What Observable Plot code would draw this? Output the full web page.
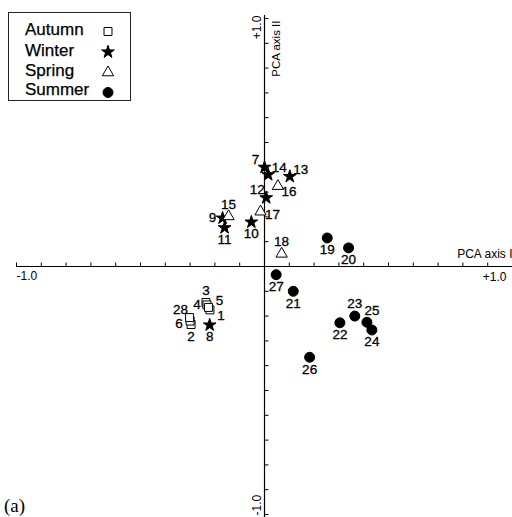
<!DOCTYPE html>
<html>
<head>
<meta charset="utf-8">
<script src="https://cdn.jsdelivr.net/npm/d3@7"></script>
<script src="https://cdn.jsdelivr.net/npm/@observablehq/plot@0.6"></script>
<style>
  html, body { margin: 0; padding: 0; background: #fff; }
  #chart { position: relative; width: 512px; height: 517px; }
</style>
</head>
<body>
<div id="chart"></div>
<script>
// ---- data (sample number, season, PCA axis I, PCA axis II) ----
const samples = [1,2,3,4,5,6,7,8,9,10,11,12,13,14,15,16,17,18,19,20,21,22,23,24,25,26,27,28];
const seasons = ["Autumn","Autumn","Autumn","Autumn","Autumn","Autumn","Winter","Winter","Winter","Winter",
                 "Winter","Winter","Winter","Winter","Spring","Spring","Spring","Spring","Summer","Summer",
                 "Summer","Summer","Summer","Summer","Summer","Summer","Summer","Autumn"];
const pcaI  = [-0.220,-0.296,-0.236,-0.232,-0.226,-0.300, 0.000,-0.221,-0.169,-0.053,
               -0.161, 0.007, 0.102, 0.015,-0.145, 0.054,-0.016, 0.069, 0.253, 0.339,
                0.116, 0.304, 0.364, 0.433, 0.413, 0.182, 0.047,-0.302];
const pcaII = [-0.175,-0.234,-0.145,-0.155,-0.165,-0.220, 0.400,-0.236, 0.195, 0.179,
                0.156, 0.277, 0.363, 0.370, 0.202, 0.324, 0.221, 0.051, 0.115, 0.075,
               -0.100,-0.227,-0.200,-0.256,-0.225,-0.366,-0.033,-0.206];
const labelSide = ["SE","S","N","W","NE","SW","NW","S","W","S",
                   "S","NW","NE","NE","N","SE","E","N","S","S",
                   "S","S","N","S","NNE","S","S","NW"];
const seasonOrder = ["Autumn","Winter","Spring","Summer"];
const axisTicks = d3.range(-10, 11).filter(i => i !== 0).map(i => i / 10);
const xTitle = "PCA axis I";
const yTitle = "PCA axis II";
const panelLabel = "(a)";

// ---- build table ----
const table = samples.map((s, i) => ({sample: String(s), season: seasons[i], x: pcaI[i], y: pcaII[i], side: labelSide[i]}));

const sideOffset = {N:[0,-12], NNE:[5,-12], S:[0,12], E:[12,3], W:[-10,0], SW:[-11,3], NE:[11,-7], NW:[-9,-8], SE:[11,6]};
const symbolOf = {Autumn: "square", Winter: "star", Spring: "triangle", Summer: "circle"};
const fillOf = {Autumn: "white", Winter: "black", Spring: "white", Summer: "black"};
const rOf = {Autumn: 4.5, Winter: 4, Spring: 4.2, Summer: 5};

const S = 248; // px per unit
const W = 512, H = 517, X0 = 264, Y0 = 266;
const xDomain = [-X0 / S, (W - X0) / S];
const yDomain = [-(H - Y0) / S, Y0 / S];

const tickUp = {draw(ctx) { ctx.moveTo(0, 0); ctx.lineTo(0, -4); }};
const tickRight = {draw(ctx) { ctx.moveTo(0, 0); ctx.lineTo(4, 0); }};

const font = "'Liberation Sans', Arial, Helvetica, sans-serif";

const marks = [
  Plot.ruleY([0], {x1: -1, x2: xDomain[1], stroke: "black", strokeWidth: 1.2}),
  Plot.ruleX([0], {y1: yDomain[0], y2: 1.012, stroke: "black", strokeWidth: 1.2}),
  Plot.dot(axisTicks, {x: d => d, y: 0, symbol: tickUp, stroke: "black", fill: "none", strokeWidth: 1}),
  Plot.dot(axisTicks, {x: 0, y: d => d, symbol: tickRight, stroke: "black", fill: "none", strokeWidth: 1}),
  // axis tick labels
  Plot.text(["-1.0"], {x: -1, y: 0, text: d => d, textAnchor: "start", dy: 10, fontSize: 12, fill: "black"}),
  Plot.text(["+1.0"], {x: xDomain[1], y: 0, text: d => d, textAnchor: "end", dx: -6, dy: 11, fontSize: 12, fill: "black"}),
  Plot.text(["+1.0"], {x: 0, y: 1, text: d => d, rotate: -90, textAnchor: "middle", dx: -7, dy: 9, fontSize: 12, fill: "black"}),
  Plot.text(["-1.0"], {x: 0, y: -1, text: d => d, rotate: -90, textAnchor: "start", dx: -7, dy: 1, fontSize: 12, fill: "black"}),
  // axis titles
  Plot.text([xTitle], {x: xDomain[1], y: 0, text: d => d, textAnchor: "end", lineAnchor: "bottom", dx: 0, dy: -9, fontSize: 12, fill: "black"}),
  Plot.text([yTitle], {x: 0, y: 1, text: d => d, rotate: -90, textAnchor: "end", dx: 12, dy: 2, fontSize: 11.5, fill: "black"}),
];

for (const season of seasonOrder) {
  marks.push(Plot.dot(table.filter(d => d.season === season), {
    x: "x", y: "y", symbol: () => symbolOf[season], r: rOf[season],
    fill: fillOf[season], stroke: "black", strokeWidth: 1
  }));
}
for (const side of Object.keys(sideOffset)) {
  const [dx, dy] = sideOffset[side];
  marks.push(Plot.text(table.filter(d => d.side === side), {
    x: "x", y: "y", text: "sample", dx, dy, fontSize: 13.5, fill: "black",
    stroke: "black", strokeWidth: 0.3
  }));
}

const chart = Plot.plot({
  width: W, height: H,
  marginTop: 0, marginRight: 0, marginBottom: 0, marginLeft: 0,
  x: {domain: xDomain, axis: null},
  y: {domain: yDomain, axis: null},
  symbol: {domain: ["square","star","triangle","circle"], range: ["square","star","triangle","circle"]},
  style: {fontFamily: font, background: "white"},
  marks
});
document.getElementById("chart").appendChild(chart);

// ---- legend + panel label drawn into the same SVG ----
const svg = d3.select(chart);
const lg = svg.append("g").attr("font-family", font).attr("text-anchor", "start");
lg.append("rect").attr("x", 8.5).attr("y", 12.5).attr("width", 122).attr("height", 88)
  .attr("fill", "white").attr("stroke", "#222").attr("stroke-width", 1);
const legendRows = [
  {label: "Autumn", base: 35, cy: 31.5},
  {label: "Winter", base: 56, cy: 52},
  {label: "Spring", base: 76, cy: 72.5},
  {label: "Summer", base: 95, cy: 92.5}
];
const d3sym = {square: d3.symbolSquare, star: d3.symbolStar, triangle: d3.symbolTriangle, circle: d3.symbolCircle};
legendRows.forEach(row => {
  const s = row.label;
  lg.append("text").attr("x", 25).attr("y", row.base).attr("font-size", 17).attr("fill", "black")
    .attr("stroke", "black").attr("stroke-width", 0.25).text(s);
  const r = rOf[s];
  lg.append("path").attr("transform", `translate(108,${row.cy})`)
    .attr("d", d3.symbol(d3sym[symbolOf[s]], Math.PI * r * r)())
    .attr("fill", fillOf[s]).attr("stroke", "black").attr("stroke-width", 1);
});
svg.append("text").attr("x", 4).attr("y", 512).attr("text-anchor", "start")
  .attr("font-family", "'Liberation Serif', 'Times New Roman', serif").attr("font-size", 19)
  .attr("fill", "black").text(panelLabel);
</script>
</body>
</html>
